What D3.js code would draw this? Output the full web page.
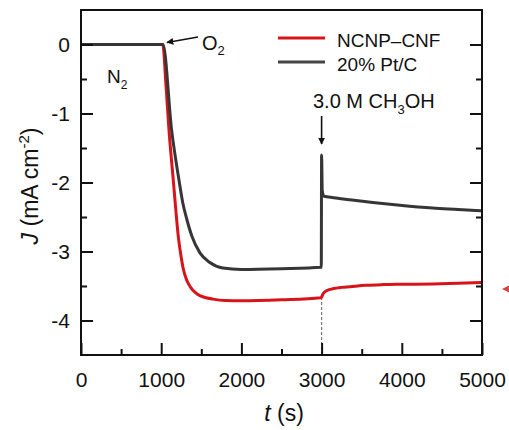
<!DOCTYPE html>
<html>
<head>
<meta charset="utf-8">
<script src="https://cdn.jsdelivr.net/npm/d3@7"></script>
<style>
  html, body { margin: 0; padding: 0; background: #fff; }
  svg { display: block; font-family: "Liberation Sans", Arial, sans-serif; }
</style>
</head>
<body>
<svg id="chart" width="509" height="430"></svg>
<script>
// ---- data ----
const seriesNames = ["NCNP\u2013CNF", "20% Pt/C"];
const ncnpT = [0, 1000, 1020, 1060, 1097, 1150, 1175, 1213, 1245, 1275, 1320, 1367, 1420, 1483, 1560, 1645, 1800, 2000, 2500, 2990, 3000, 3020, 3060, 3140, 3250, 3352, 3550, 3766, 4000, 4386, 4700, 5000];
const ncnpJ = [0, 0, 0, -0.6, -1.24, -1.96, -2.30, -2.78, -3.05, -3.25, -3.42, -3.52, -3.59, -3.64, -3.67, -3.69, -3.71, -3.715, -3.70, -3.67, -3.66, -3.61, -3.57, -3.54, -3.52, -3.51, -3.49, -3.48, -3.475, -3.47, -3.46, -3.45];
const ptcT = [0, 1000, 1022, 1130, 1221, 1270, 1321, 1383, 1483, 1607, 1769, 2000, 2500, 2996, 3000, 3008, 3030, 3150, 3352, 3639, 3975, 4386, 4700, 5000];
const ptcJ = [0, 0, 0, -1.24, -1.96, -2.30, -2.54, -2.78, -3.02, -3.16, -3.24, -3.26, -3.25, -3.23, -1.60, -2.12, -2.20, -2.22, -2.25, -2.29, -2.33, -2.37, -2.39, -2.41];
const xTicks = [0, 1000, 2000, 3000, 4000, 5000];
const xMinorTicks = [500, 1500, 2500, 3500, 4500];
const yTicks = [0, -1, -2, -3, -4];
const yMinorTicks = [0.5, -0.5, -1.5, -2.5, -3.5, -4.5];
const methanolTime = 3000;

// ---- layout ----
const svg = d3.select("#chart");
const L = 81, R = 482, T = 10, B = 355;
const x = d3.scaleLinear().domain([0, 5000]).range([L, R]);
const y = d3.scaleLinear().domain([-4.5, 0.5]).range([B, T]);

const tickFont = 21;

// dashed vertical line at methanol addition
svg.append("line")
  .attr("x1", x(methanolTime)).attr("x2", x(methanolTime))
  .attr("y1", y(-3.66)).attr("y2", B)
  .attr("stroke", "#777").attr("stroke-width", 1.2)
  .attr("stroke-dasharray", "3,2");

const line = d3.line().curve(d3.curveMonotoneX).x(d => x(d[0])).y(d => y(d[1]));
const redData = ncnpT.map((t, i) => [t, ncnpJ[i]]);
const blkData = ptcT.map((t, i) => [t, ptcJ[i]]);

svg.append("path").datum(redData).attr("d", line)
  .attr("fill", "none").attr("stroke", "#d7141a").attr("stroke-width", 3).attr("stroke-linejoin", "round");
svg.append("path").datum(blkData).attr("d", line)
  .attr("fill", "none").attr("stroke", "#363636").attr("stroke-width", 3).attr("stroke-linejoin", "round");

// ---- axes ----
function styleAxis(g) {
  g.select(".domain").remove();
  g.selectAll(".tick line").attr("stroke", "#111").attr("stroke-width", 2);
  g.selectAll(".tick text").attr("fill", "#111").style("font-size", tickFont + "px")
    .style("font-family", "'Liberation Sans', Arial, sans-serif");
}
// left
svg.append("g").attr("transform", `translate(${L},0)`)
  .call(d3.axisLeft(y).tickValues(yTicks).tickSize(-12).tickPadding(11).tickFormat(d => d === 0 ? "0" : String(d).replace("\u2212", "-")))
  .call(styleAxis);
svg.append("g").attr("transform", `translate(${L},0)`)
  .call(d3.axisLeft(y).tickValues(yMinorTicks.filter(v => v > -4.5 && v < 0.5)).tickSize(-6).tickFormat(""))
  .call(styleAxis);
// right
svg.append("g").attr("transform", `translate(${R},0)`)
  .call(d3.axisRight(y).tickValues(yTicks).tickSize(-12).tickFormat(""))
  .call(styleAxis);
svg.append("g").attr("transform", `translate(${R},0)`)
  .call(d3.axisRight(y).tickValues(yMinorTicks.filter(v => v > -4.5 && v < 0.5)).tickSize(-6).tickFormat(""))
  .call(styleAxis);
// bottom
const xAx = svg.append("g").attr("transform", `translate(0,${B})`)
  .call(d3.axisBottom(x).tickValues(xTicks).tickSize(-12).tickPadding(17).tickFormat(d3.format("d")))
  .call(styleAxis);
svg.append("g").attr("transform", `translate(0,${B})`)
  .call(d3.axisBottom(x).tickValues(xMinorTicks).tickSize(-6).tickFormat(""))
  .call(styleAxis);

// frame
svg.append("rect").attr("x", L).attr("y", T).attr("width", R - L).attr("height", B - T)
  .attr("fill", "none").attr("stroke", "#111").attr("stroke-width", 2);

// axis titles
const yt = svg.append("text")
  .attr("transform", `translate(38,186) rotate(-90)`)
  .attr("text-anchor", "middle")
  .style("font-size", "23px").attr("fill", "#111");
yt.append("tspan").attr("font-style", "italic").text("J");
yt.append("tspan").text(" (mA cm");
yt.append("tspan").attr("dy", -9).style("font-size", "15px").text("-2");
yt.append("tspan").attr("dy", 9).text(")");

const xt = svg.append("text").attr("x", 284).attr("y", 421)
  .attr("text-anchor", "middle").style("font-size", "23px").attr("fill", "#111");
xt.append("tspan").attr("font-style", "italic").text("t");
xt.append("tspan").text(" (s)");

// legend
const legColors = ["#d7141a", "#444"];
seriesNames.forEach((name, i) => {
  const ly = 38 + i * 24;
  svg.append("line").attr("x1", 278).attr("x2", 325).attr("y1", ly).attr("y2", ly)
    .attr("stroke", legColors[i]).attr("stroke-width", 3);
  svg.append("text").attr("x", 337).attr("y", ly + 9).style("font-size", "19px").attr("fill", "#111").text(name);
});

// annotations
const defs = svg.append("defs");
defs.append("marker").attr("id", "ah").attr("viewBox", "0 0 10 10").attr("refX", 9).attr("refY", 5)
  .attr("markerWidth", 7).attr("markerHeight", 7).attr("markerUnits", "userSpaceOnUse").attr("orient", "auto")
  .append("path").attr("d", "M0,0 L10,5 L0,10 Z").attr("fill", "#111");

// O2 arrow
svg.append("line").attr("x1", 198).attr("y1", 37).attr("x2", 167).attr("y2", 42.5)
  .attr("stroke", "#111").attr("stroke-width", 1.6).attr("marker-end", "url(#ah)");
const o2 = svg.append("text").attr("x", 202).attr("y", 50).style("font-size", "20px").attr("fill", "#111");
o2.append("tspan").text("O");
o2.append("tspan").attr("dy", 5).style("font-size", "13px").text("2");

const n2 = svg.append("text").attr("x", 107).attr("y", 83).style("font-size", "19px").attr("fill", "#111");
n2.append("tspan").text("N");
n2.append("tspan").attr("dy", 6).style("font-size", "12px").text("2");

// methanol arrow
svg.append("line").attr("x1", x(methanolTime)).attr("y1", 116).attr("x2", x(methanolTime)).attr("y2", 144)
  .attr("stroke", "#111").attr("stroke-width", 1.6).attr("marker-end", "url(#ah)");
const meth = svg.append("text").attr("x", 313).attr("y", 108).style("font-size", "20px").attr("fill", "#111");
meth.append("tspan").text("3.0 M CH");
meth.append("tspan").attr("dy", 6).style("font-size", "13px").text("3");
meth.append("tspan").attr("dy", -6).text("OH");

// red pointer arrowhead at right edge (outside the plot)
svg.append("path").attr("d", "M502,289 L512,284 L512,294 Z").attr("fill", "#d04545");
</script>
</body>
</html>
